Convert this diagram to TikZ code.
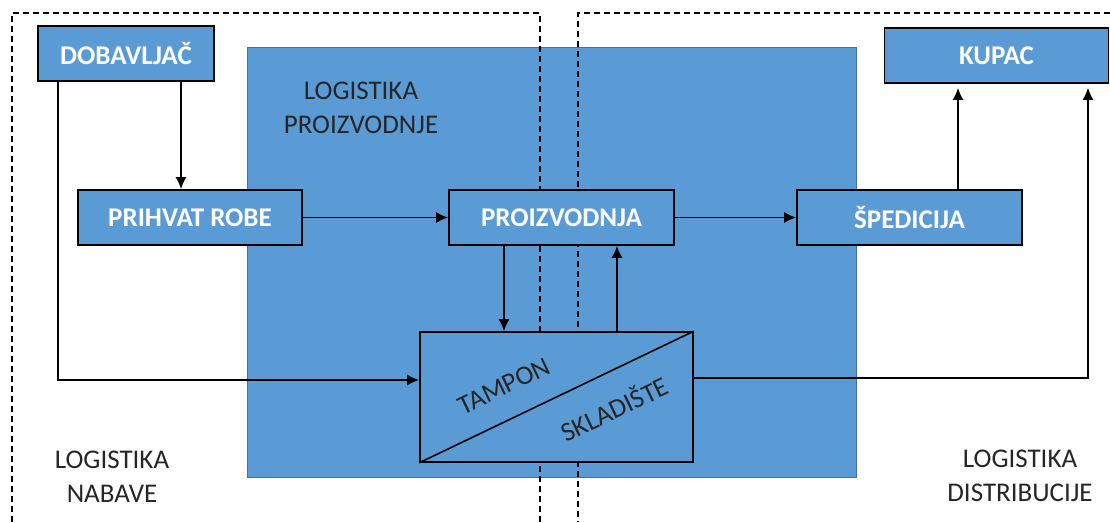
\documentclass[tikz,border=0pt]{standalone}
\usepackage{fontspec}
\setmainfont{Carlito}
\usetikzlibrary{arrows.meta}
\definecolor{obl}{RGB}{91,155,213}
\definecolor{obledge}{RGB}{65,113,156}
\begin{document}
\begin{tikzpicture}[x=1pt,y=-1pt,
  box/.style={draw=black,line width=1.6pt,fill=obl,minimum height=55pt,inner sep=0pt,
    text=white,font=\fontsize{27}{30}\selectfont\bfseries},
  arr/.style={line width=1.6pt,-{Latex[length=12pt,width=11pt]}},
  dsh/.style={line width=1.4pt,dash pattern=on 6pt off 4pt},
  lbl/.style={align=center,font=\fontsize{27}{34}\selectfont,text=black!85}]
\useasboundingbox (0,0) rectangle (1110,522);
\fill[white] (0,0) rectangle (1110,522);
% big production area
\draw[fill=obl,draw=obledge,line width=0.8pt] (247,47) rectangle (856,477);
% dashed regions
\draw[dsh] (12,522) -- (12,13) -- (540,13) -- (540,522);
\draw[dsh] (1110,13) -- (578,13) -- (578,522);
% nodes
\node[box,minimum width=176.5pt] (dob) at (126,53.5) {DOBAVLJAČ};
\node[box,minimum width=224pt] (prih) at (190,217.5) {PRIHVAT ROBE};
\node[box,minimum width=225pt] (proiz) at (561.5,217.5) {PROIZVODNJA};
\node[box,minimum width=225pt] (sped) at (909.5,217.5) {ŠPEDICIJA};
\node[box,minimum width=224pt] (kup) at (996.5,55.5) {KUPAC};
\node[box,minimum width=273pt,minimum height=130pt] (tamp) at (556.5,397) {};
\draw[line width=1.6pt] (tamp.south west) -- (tamp.north east);
\node[lbl,rotate=25.5] (tampon) at (504,386) {TAMPON};
\node[lbl,rotate=25.5] (skl) at (614,408) {SKLADIŠTE};
% labels
\node[lbl] (lp) at (361,108) {LOGISTIKA\\PROIZVODNJE};
\node[lbl] (ln) at (112,477) {LOGISTIKA\\NABAVE};
\node[lbl] (ld) at (1020,476) {LOGISTIKA\\DISTRIBUCIJE};
% connectors
\draw[arr] ([xshift=55pt]dob.south) -- ([xshift=-9pt]prih.north);
\draw[arr] ([xshift=-68pt]dob.south) |- ([yshift=17pt]tamp.west);
\draw[arr] (prih.east) -- (proiz.west);
\draw[arr] (proiz.east) -- (sped.west);
\draw[arr] ([xshift=-57.5pt]proiz.south) -- ([xshift=-52.5pt]tamp.north);
\draw[arr] ([xshift=60.5pt]tamp.north) -- ([xshift=55.5pt]proiz.south);
\draw[arr,shorten >=4pt] ([xshift=48.5pt]sped.north) -- ([xshift=-38.5pt]kup.south);
\draw[arr,shorten >=4pt] ([yshift=19pt]tamp.east) -| ([xshift=91.5pt]kup.south);
\end{tikzpicture}
\end{document}
